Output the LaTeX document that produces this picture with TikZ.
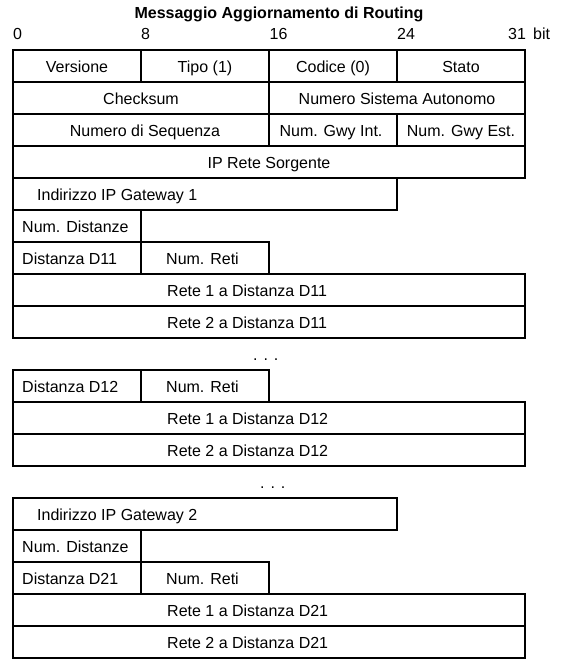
\documentclass[tikz,border=0pt]{standalone}
\usepackage{fontspec}
\setmainfont{Liberation Sans}
\begin{document}
\begin{tikzpicture}[x=1pt,y=-1pt,
  box/.style={draw=black, line width=2pt, line join=miter},
  lbl/.style={inner sep=0pt, anchor=base, font=\fontsize{16}{19}\selectfont},
  lblw/.style={lbl, anchor=base west},
  ttl/.style={inner sep=0pt, anchor=base, font=\fontsize{16}{19}\selectfont\bfseries}]
\useasboundingbox (0,0) rectangle (571,672);
% title and bit scale
\node[ttl] (title) at (279,18.5) {Messaggio Aggiornamento di Routing};
\node[lblw] (b0) at (13,39.5) {0};
\node[lblw] (b8) at (141,39.5) {8};
\node[lblw] (b16) at (269.5,39.5) {16};
\node[lblw] (b24) at (397,39.5) {24};
\node[lblw] (b31) at (508,39.5) {31};
\node[lblw] (bbit) at (533,39.5) {bit};
% row 0
\draw[box] (13,49.5) rectangle (141,81.5);
\draw[box] (141,49.5) rectangle (269,81.5);
\draw[box] (269,49.5) rectangle (397,81.5);
\draw[box] (397,49.5) rectangle (525,81.5);
\node[lbl] (ver) at (77,72.5) {Versione};
\node[lbl] (tipo) at (205,72.5) {Tipo (1)};
\node[lbl] (cod) at (333,72.5) {Codice (0)};
\node[lbl] (stato) at (461,72.5) {Stato};
% row 1
\draw[box] (13,81.5) rectangle (269,113.5);
\draw[box] (269,81.5) rectangle (525,113.5);
\node[lbl] (chk) at (141,104.5) {Checksum};
\node[lbl] (nsa) at (397,104.5) {Numero Sistema Autonomo};
% row 2
\draw[box] (13,113.5) rectangle (269,145.5);
\draw[box] (269,113.5) rectangle (397,145.5);
\draw[box] (397,113.5) rectangle (525,145.5);
\node[lbl] (seq) at (145,136.5) {Numero di Sequenza};
\node[lbl] (gwi) at (331,136.5) {Num. Gwy Int.};
\node[lbl] (gwe) at (461,136.5) {Num. Gwy Est.};
% row 3
\draw[box] (13,145.5) rectangle (525,177.5);
\node[lbl] (ipr) at (269,168.5) {IP Rete Sorgente};
% gateway 1
\draw[box] (13,177.5) rectangle (397,209.5);
\node[lblw] (gw1) at (37,200.5) {Indirizzo IP Gateway 1};
\draw[box] (13,209.5) rectangle (141,241.5);
\node[lblw] (nd1) at (22,232.5) {Num. Distanze};
\draw[box] (13,241.5) rectangle (141,273.5);
\draw[box] (141,241.5) rectangle (269,273.5);
\node[lblw] (d11) at (22,264.5) {Distanza D11};
\node[lblw] (nr11) at (166,264.5) {Num. Reti};
\draw[box] (13,273.5) rectangle (525,305.5);
\draw[box] (13,305.5) rectangle (525,337.5);
\node[lblw] (r1d11) at (167,296.5) {Rete 1 a Distanza D11};
\node[lblw] (r2d11) at (167,328.5) {Rete 2 a Distanza D11};
\node[lblw] (dots1) at (253,360.5) {. . .};
% D12
\draw[box] (13,369.5) rectangle (141,401.5);
\draw[box] (141,369.5) rectangle (269,401.5);
\node[lblw] (d12) at (22,392.5) {Distanza D12};
\node[lblw] (nr12) at (166,392.5) {Num. Reti};
\draw[box] (13,401.5) rectangle (525,433.5);
\draw[box] (13,433.5) rectangle (525,465.5);
\node[lblw] (r1d12) at (167,424.5) {Rete 1 a Distanza D12};
\node[lblw] (r2d12) at (167,456.5) {Rete 2 a Distanza D12};
\node[lblw] (dots2) at (260,488) {. . .};
% gateway 2
\draw[box] (13,497.5) rectangle (397,529.5);
\node[lblw] (gw2) at (37,520.5) {Indirizzo IP Gateway 2};
\draw[box] (13,529.5) rectangle (141,561.5);
\node[lblw] (nd2) at (22,552.5) {Num. Distanze};
\draw[box] (13,561.5) rectangle (141,593.5);
\draw[box] (141,561.5) rectangle (269,593.5);
\node[lblw] (d21) at (22,584.5) {Distanza D21};
\node[lblw] (nr21) at (166,584.5) {Num. Reti};
\draw[box] (13,593.5) rectangle (525,625.5);
\draw[box] (13,625.5) rectangle (525,657.5);
\node[lblw] (r1d21) at (167,616.5) {Rete 1 a Distanza D21};
\node[lblw] (r2d21) at (167,648.5) {Rete 2 a Distanza D21};
\end{tikzpicture}
\end{document}
